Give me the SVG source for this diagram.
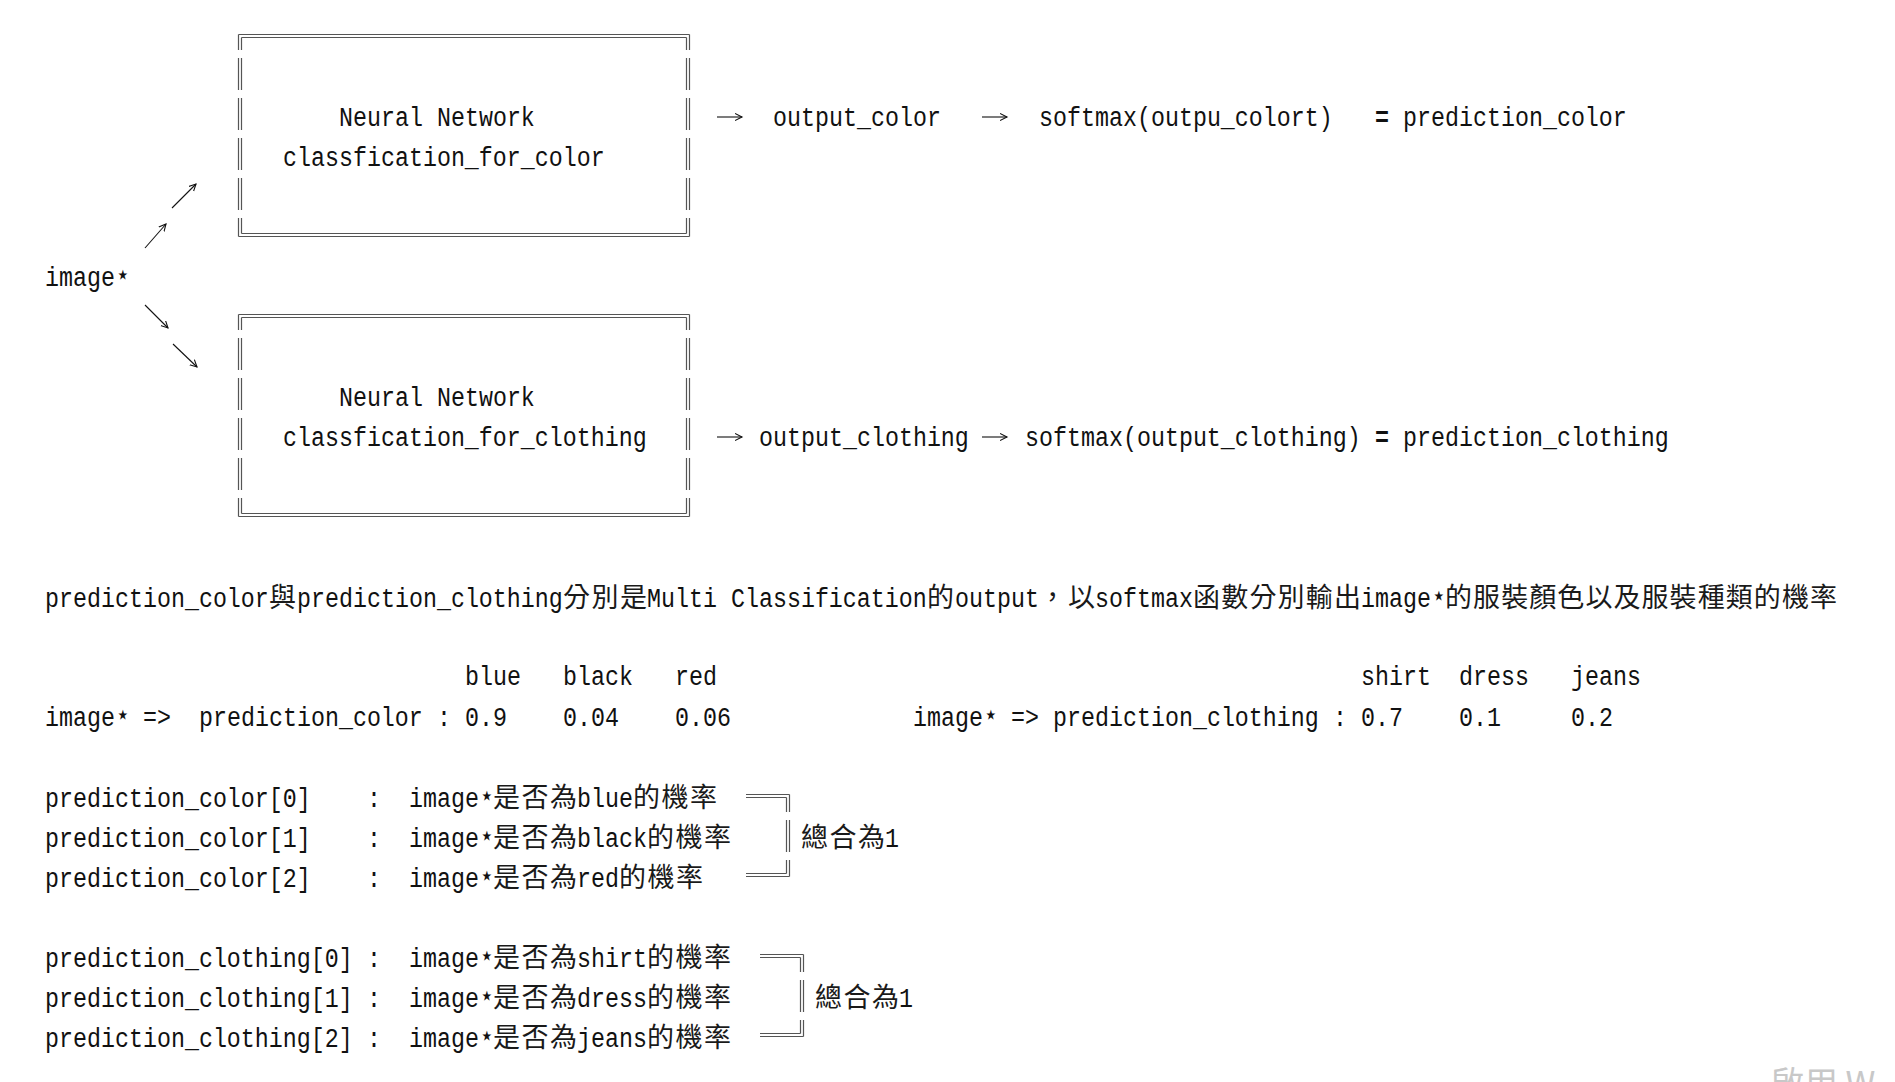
<svg xmlns="http://www.w3.org/2000/svg" width="1895" height="1082" viewBox="0 0 1895 1082">
<style>
.t{font-family:"Liberation Mono","DejaVu Sans Mono",monospace;font-size:23.33px;fill:#111}
.s{font-family:"DejaVu Sans Mono",monospace;font-size:26px;letter-spacing:-1.65px}
.c{font-family:"Noto Sans CJK TC","Noto Sans CJK SC",sans-serif;font-size:27px;fill:#1a1a1a}
.b{fill:none;stroke:#555;stroke-width:1.2}
.a{fill:none;stroke:#111;stroke-width:1.1}
.w{font-family:"Noto Sans CJK TC","Noto Sans",sans-serif;font-size:34px;fill:#c8c8c8}
</style>
<defs>
<marker id="ah" markerUnits="userSpaceOnUse" markerWidth="10" markerHeight="10" refX="7" refY="4" orient="auto">
<path d="M0,0.5 L7,4 L0,7.5" fill="none" stroke="#111" stroke-width="1.1"/>
</marker>
<path id="boxframe" class="b" d="M238.5,34.5 H689.5 M241.5,37.5 H686.5 M238.5,236.5 H689.5 M241.5,233.5 H686.5 M238.5,34.5 V50 M238.5,58 V90 M238.5,98 V130 M238.5,138 V170 M238.5,178 V210 M238.5,218 V236.5 M241.5,37.5 V50 M241.5,58 V90 M241.5,98 V130 M241.5,138 V170 M241.5,178 V210 M241.5,218 V233.5 M689.5,34.5 V50 M689.5,58 V90 M689.5,98 V130 M689.5,138 V170 M689.5,178 V210 M689.5,218 V236.5 M686.5,37.5 V50 M686.5,58 V90 M686.5,98 V130 M686.5,138 V170 M686.5,178 V210 M686.5,218 V233.5"/>
<path id="brk" class="b" d="M746,794.5 H789.5 M746,797.5 H786.5 M746,876.5 H789.5 M746,873.5 H786.5 M789.5,794.5 V812 M789.5,820 V852 M789.5,860 V876.5 M786.5,797.5 V812 M786.5,820 V852 M786.5,860 V873.5"/>
</defs>
<rect width="1895" height="1082" fill="#fff"/>

<g id="connectors">
<path class="a" d="M145,248 L166,224" marker-end="url(#ah)"/>
<path class="a" d="M172,208 L196,184" marker-end="url(#ah)"/>
<path class="a" d="M145,305 L168,328" marker-end="url(#ah)"/>
<path class="a" d="M173,344 L197,367" marker-end="url(#ah)"/>
<path class="a" d="M717,117 H742" marker-end="url(#ah)"/>
<path class="a" d="M982,117 H1007" marker-end="url(#ah)"/>
<path class="a" d="M717,437 H742" marker-end="url(#ah)"/>
<path class="a" d="M982,437 H1007" marker-end="url(#ah)"/>
</g>

<g id="image-input">
<text class="t" transform="translate(45,286) scale(1,1.2)">image<tspan class="s">⋆</tspan></text>
</g>

<g id="nn-color">
<use href="#boxframe"/>
<text class="t" transform="translate(339,126) scale(1,1.2)">Neural Network</text>
<text class="t" transform="translate(283,166) scale(1,1.2)">classfication_for_color</text>
</g>

<g id="nn-clothing">
<use href="#boxframe" transform="translate(0,280)"/>
<text class="t" transform="translate(339,406) scale(1,1.2)">Neural Network</text>
<text class="t" transform="translate(283,446) scale(1,1.2)">classfication_for_clothing</text>
</g>

<g id="output-color">
<text class="t" transform="translate(773,126) scale(1,1.2)">output_color</text>
</g>
<g id="softmax-color">
<text class="t" transform="translate(1039,126) scale(1,1.2)">softmax(outpu_colort)</text>
<text class="t" transform="translate(1375,126) scale(1,1.2)" font-weight="bold">=</text>
<text class="t" transform="translate(1403,126) scale(1,1.2)">prediction_color</text>
</g>

<g id="output-clothing">
<text class="t" transform="translate(759,446) scale(1,1.2)">output_clothing</text>
</g>
<g id="softmax-clothing">
<text class="t" transform="translate(1025,446) scale(1,1.2)">softmax(output_clothing)</text>
<text class="t" transform="translate(1375,446) scale(1,1.2)" font-weight="bold">=</text>
<text class="t" transform="translate(1403,446) scale(1,1.2)">prediction_clothing</text>
</g>

<g id="description">
<text class="t" transform="translate(45,607) scale(1,1.2)">prediction_color</text>
<text class="c" x="269" y="607">與</text>
<text class="t" transform="translate(297,607) scale(1,1.2)">prediction_clothing</text>
<text class="c" x="563" y="607" textLength="84">分別是</text>
<text class="t" transform="translate(647,607) scale(1,1.2)">Multi Classification</text>
<text class="c" x="927" y="607">的</text>
<text class="t" transform="translate(955,607) scale(1,1.2)">output</text>
<text class="c" x="1039" y="607" textLength="56">，以</text>
<text class="t" transform="translate(1095,607) scale(1,1.2)">softmax</text>
<text class="c" x="1193" y="607" textLength="168">函數分別輸出</text>
<text class="t" transform="translate(1361,607) scale(1,1.2)">image<tspan class="s">⋆</tspan></text>
<text class="c" x="1445" y="607" textLength="392">的服裝顏色以及服裝種類的機率</text>
</g>

<g id="color-probs">
<text class="t" transform="translate(465,685) scale(1,1.2)">blue</text>
<text class="t" transform="translate(563,685) scale(1,1.2)">black</text>
<text class="t" transform="translate(675,685) scale(1,1.2)">red</text>
<text class="t" transform="translate(45,726) scale(1,1.2)">image<tspan class="s">⋆</tspan></text>
<text class="t" transform="translate(143,726) scale(1,1.2)">=&gt;</text>
<text class="t" transform="translate(199,726) scale(1,1.2)">prediction_color</text>
<text class="t" transform="translate(437,726) scale(1,1.2)">:</text>
<text class="t" transform="translate(465,726) scale(1,1.2)">0.9</text>
<text class="t" transform="translate(563,726) scale(1,1.2)">0.04</text>
<text class="t" transform="translate(675,726) scale(1,1.2)">0.06</text>
</g>

<g id="clothing-probs">
<text class="t" transform="translate(1361,685) scale(1,1.2)">shirt</text>
<text class="t" transform="translate(1459,685) scale(1,1.2)">dress</text>
<text class="t" transform="translate(1571,685) scale(1,1.2)">jeans</text>
<text class="t" transform="translate(913,726) scale(1,1.2)">image<tspan class="s">⋆</tspan></text>
<text class="t" transform="translate(1011,726) scale(1,1.2)">=&gt;</text>
<text class="t" transform="translate(1053,726) scale(1,1.2)">prediction_clothing</text>
<text class="t" transform="translate(1333,726) scale(1,1.2)">:</text>
<text class="t" transform="translate(1361,726) scale(1,1.2)">0.7</text>
<text class="t" transform="translate(1459,726) scale(1,1.2)">0.1</text>
<text class="t" transform="translate(1571,726) scale(1,1.2)">0.2</text>
</g>

<g id="color-list">
<text class="t" transform="translate(45,807) scale(1,1.2)">prediction_color[0]</text>
<text class="t" transform="translate(367,807) scale(1,1.2)">:</text>
<text class="t" transform="translate(409,807) scale(1,1.2)">image<tspan class="s">⋆</tspan></text>
<text class="c" x="493" y="807" textLength="84">是否為</text>
<text class="t" transform="translate(577,807) scale(1,1.2)">blue</text>
<text class="c" x="633" y="807" textLength="84">的機率</text>

<text class="t" transform="translate(45,847) scale(1,1.2)">prediction_color[1]</text>
<text class="t" transform="translate(367,847) scale(1,1.2)">:</text>
<text class="t" transform="translate(409,847) scale(1,1.2)">image<tspan class="s">⋆</tspan></text>
<text class="c" x="493" y="847" textLength="84">是否為</text>
<text class="t" transform="translate(577,847) scale(1,1.2)">black</text>
<text class="c" x="647" y="847" textLength="84">的機率</text>

<text class="t" transform="translate(45,887) scale(1,1.2)">prediction_color[2]</text>
<text class="t" transform="translate(367,887) scale(1,1.2)">:</text>
<text class="t" transform="translate(409,887) scale(1,1.2)">image<tspan class="s">⋆</tspan></text>
<text class="c" x="493" y="887" textLength="84">是否為</text>
<text class="t" transform="translate(577,887) scale(1,1.2)">red</text>
<text class="c" x="619" y="887" textLength="84">的機率</text>

<use href="#brk"/>
<text class="c" x="801" y="847" textLength="84">總合為</text>
<text class="t" transform="translate(885,847) scale(1,1.2)">1</text>
</g>

<g id="clothing-list">
<text class="t" transform="translate(45,967) scale(1,1.2)">prediction_clothing[0]</text>
<text class="t" transform="translate(367,967) scale(1,1.2)">:</text>
<text class="t" transform="translate(409,967) scale(1,1.2)">image<tspan class="s">⋆</tspan></text>
<text class="c" x="493" y="967" textLength="84">是否為</text>
<text class="t" transform="translate(577,967) scale(1,1.2)">shirt</text>
<text class="c" x="647" y="967" textLength="84">的機率</text>

<text class="t" transform="translate(45,1007) scale(1,1.2)">prediction_clothing[1]</text>
<text class="t" transform="translate(367,1007) scale(1,1.2)">:</text>
<text class="t" transform="translate(409,1007) scale(1,1.2)">image<tspan class="s">⋆</tspan></text>
<text class="c" x="493" y="1007" textLength="84">是否為</text>
<text class="t" transform="translate(577,1007) scale(1,1.2)">dress</text>
<text class="c" x="647" y="1007" textLength="84">的機率</text>

<text class="t" transform="translate(45,1047) scale(1,1.2)">prediction_clothing[2]</text>
<text class="t" transform="translate(367,1047) scale(1,1.2)">:</text>
<text class="t" transform="translate(409,1047) scale(1,1.2)">image<tspan class="s">⋆</tspan></text>
<text class="c" x="493" y="1047" textLength="84">是否為</text>
<text class="t" transform="translate(577,1047) scale(1,1.2)">jeans</text>
<text class="c" x="647" y="1047" textLength="84">的機率</text>

<use href="#brk" transform="translate(14,160)"/>
<text class="c" x="815" y="1007" textLength="84">總合為</text>
<text class="t" transform="translate(899,1007) scale(1,1.2)">1</text>
</g>

<text class="w" x="1770" y="1096">啟用 W</text>
</svg>
